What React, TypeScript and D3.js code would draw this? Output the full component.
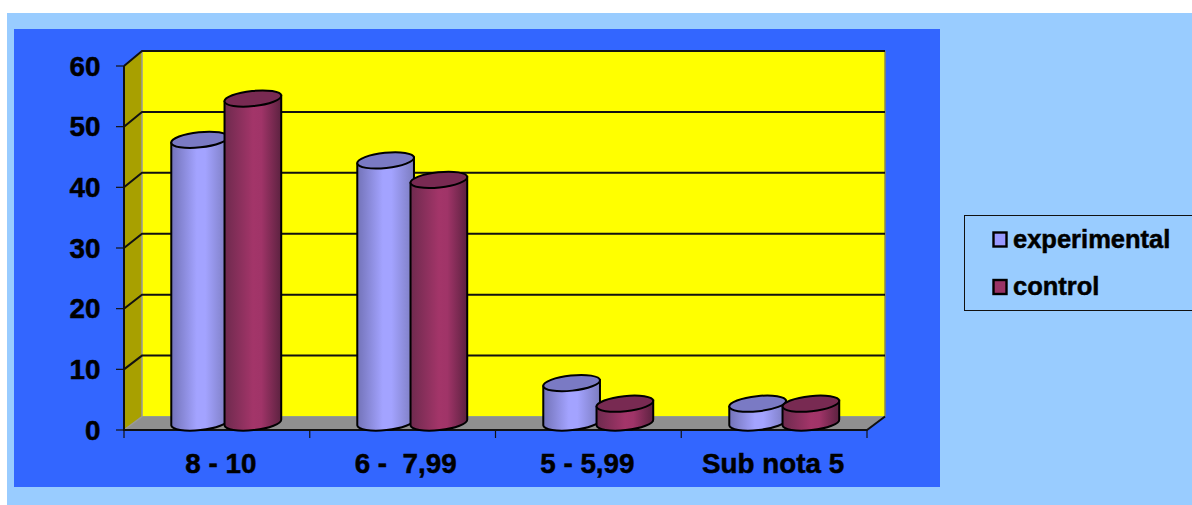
import React from "react";
import * as d3 from "d3";

const categories = ["8 - 10", "6 -  7,99", "5 - 5,99", "Sub nota 5"];
const seriesNames = ["experimental", "control"];
const experimental = [46.6, 43.2, 6.5, 3.1];
const control = [53.4, 40, 3.1, 3.1];
const yTicks = [0, 10, 20, 30, 40, 50, 60];
const sideColors = ["url(#g0)", "url(#g1)"];
const topColors = ["#7a7ac4", "#782a52"];
const swatchColors = ["#9999ff", "#993366"];
const labelNudge = [4, 3, -1, -1];

const W = 1192, H = 505;
const font = "'Liberation Sans', Arial, sans-serif";
const xBand = d3.scaleBand<string>().domain(categories).range([124, 867]);
const xBars = d3.scaleBand<string>().domain(categories).range([125, 869]);
const xInner = d3.scaleBand<string>().domain(seriesNames).range([-54, 52.5]);
const yFront = d3.scaleLinear().domain([0, 60]).range([430, 66]);
const yBack = d3.scaleLinear().domain([0, 60]).range([416.5, 51]);
const yBar = d3.scaleLinear().domain([0, 60]).range([422.5, 58.5]);
const DX = 18;
const RX = 28.5, RY = 7.6, TILT = -6;
const tx = RX * Math.cos((TILT * Math.PI) / 180);
const ty = RX * Math.sin((TILT * Math.PI) / 180);

function Cylinder({ cx, value, i }: { cx: number; value: number; i: number }) {
  const top = yBar(value), bot = yBar(0);
  const d = `M${cx - tx},${top - ty} L${cx - tx},${bot - ty} A${RX},${RY} ${TILT} 0 0 ${cx + tx},${bot + ty} L${cx + tx},${top + ty} Z`;
  return (
    <g stroke="#000" strokeWidth={2}>
      <path d={d} fill={sideColors[i]} />
      <ellipse cx={cx} cy={top} rx={RX} ry={RY} fill={topColors[i]} transform={`rotate(${TILT} ${cx} ${top})`} />
    </g>
  );
}

export default function App() {
  const b0 = yFront(0), bb = yBack(0);
  const textProps = { fill: "#000", stroke: "#000", strokeWidth: 0.5 };
  return (
    <svg width={W} height={H} style={{ position: "absolute", left: 0, top: 0 }} fontFamily={font} fontWeight={700}>
      <defs>
        <linearGradient id="g0">
          <stop offset="0" stopColor="#7373b8" />
          <stop offset="0.45" stopColor="#a3a3ff" />
          <stop offset="0.6" stopColor="#a3a3ff" />
          <stop offset="1" stopColor="#7c7cc0" />
        </linearGradient>
        <linearGradient id="g1">
          <stop offset="0" stopColor="#6e2a4e" />
          <stop offset="0.5" stopColor="#a33569" />
          <stop offset="0.65" stopColor="#a03468" />
          <stop offset="1" stopColor="#5c2240" />
        </linearGradient>
      </defs>
      <rect x={7} y={13} width={W - 7} height={H - 13} fill="#99ccff" />
      <rect x={14} y={29} width={926} height={458} fill="#3366ff" />

      <rect x={124 + DX} y={yBack(60)} width={743} height={bb - yBack(60)} fill="#ffff00" />
      <path d={`M124,${yFront(60)} L${124 + DX},${yBack(60)} L${124 + DX},${bb} L124,${b0} Z`} fill="#a8a000" />
      <path d={`M124,${b0} L${124 + DX},${bb} L${867 + DX},${bb} L867,${b0} Z`} fill="#8f8f8f" />
      <path d={`M${124 + DX},${yBack(60)} V${bb} L124,${b0}`} fill="none" stroke="#999" strokeWidth={1.5} />
      <path d={`M${867 + DX},${yBack(60)} V${bb}`} fill="none" stroke="#8a8a50" strokeWidth={1.5} />

      {yTicks.filter((t) => t > 0).map((t) => (
        <path key={t} d={`M124,${yFront(t)} L${124 + DX},${yBack(t)} H${867 + DX}`} fill="none" stroke="#111" strokeWidth={2} />
      ))}
      <path d={`M124,${yFront(60)} V${b0} H867 L${867 + DX},${bb}`} fill="none" stroke="#111" strokeWidth={2} />

      {yTicks.map((t) => (
        <g key={t}>
          <line x1={116} x2={124} y1={yFront(t)} y2={yFront(t)} stroke="#111" strokeWidth={1.2} />
          <text x={100.5} y={yFront(t) + 9.5} textAnchor="end" fontSize={27.8} {...textProps}>{t}</text>
        </g>
      ))}
      {[...categories.map((c) => xBand(c)!), 867].map((x) => (
        <line key={x} x1={x} x2={x} y1={b0} y2={b0 + 8} stroke="#111" strokeWidth={1.2} />
      ))}
      {categories.map((c, k) => (
        <text key={c} x={xBand(c)! + xBand.bandwidth() / 2 + labelNudge[k]} y={473} textAnchor="middle" fontSize={27.8} style={{ whiteSpace: "pre" }} {...textProps}>{c}</text>
      ))}

      {categories.map((c, k) => {
        const mid = xBars(c)! + xBars.bandwidth() / 2 + DX / 2;
        return (
          <g key={c}>
            <Cylinder cx={mid + xInner(seriesNames[0])! + xInner.bandwidth() / 2} value={experimental[k]} i={0} />
            <Cylinder cx={mid + xInner(seriesNames[1])! + xInner.bandwidth() / 2} value={control[k]} i={1} />
          </g>
        );
      })}

      <rect x={964.5} y={215.5} width={240} height={95} fill="none" stroke="#111" strokeWidth={1} />
      {seriesNames.map((s, i) => (
        <g key={s}>
          <rect x={993.5} y={232.5 + i * 47.5} width={13} height={14} fill={swatchColors[i]} stroke="#000" strokeWidth={2.4} />
          <text x={1013} y={248 + i * 47} fontSize={25.5} {...textProps}>{s}</text>
        </g>
      ))}
    </svg>
  );
}
